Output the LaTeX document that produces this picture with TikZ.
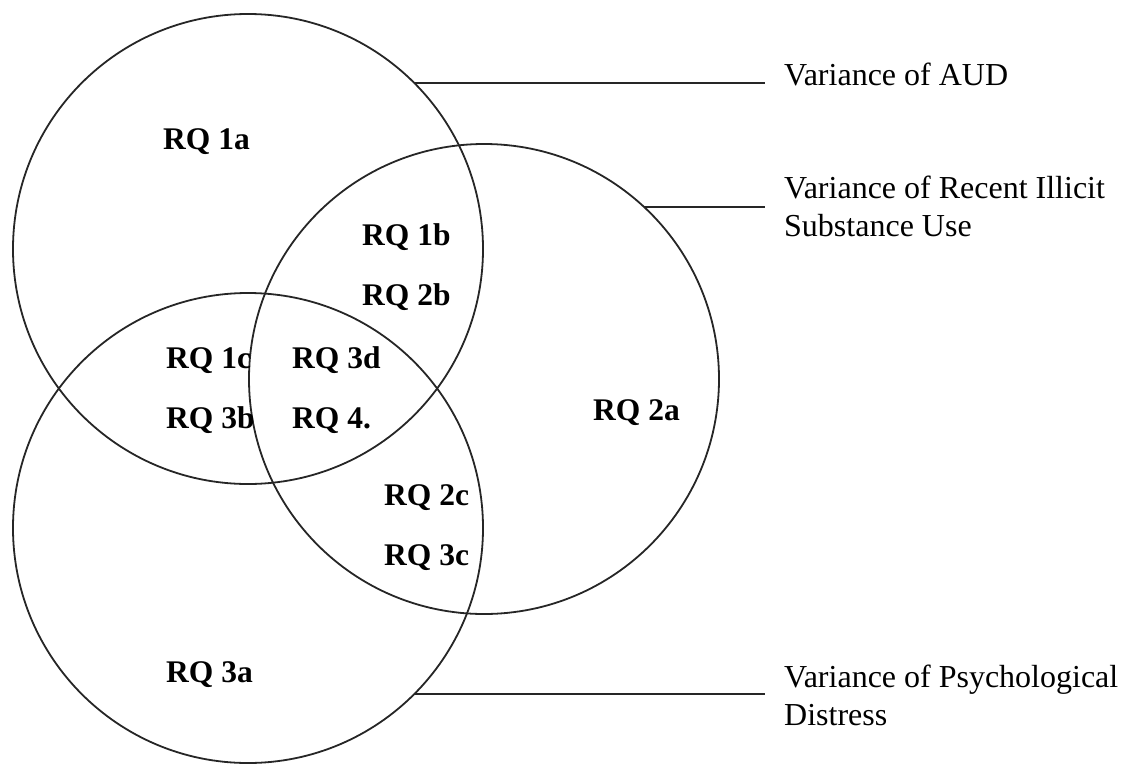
\documentclass[tikz,border=0pt]{standalone}
\usepackage{fontspec}
\setmainfont{Liberation Serif}
\begin{document}
\begin{tikzpicture}[x=1pt,y=-1pt,
  venn/.style={draw=black!85,line width=1.8pt,circle,minimum size=470pt,inner sep=0pt,outer sep=0pt},
  rq/.style={anchor=base west,inner sep=0pt,font=\fontsize{31.5}{31.5}\selectfont\bfseries},
  lbl/.style={anchor=base west,inner sep=0pt,font=\fontsize{32}{38}\selectfont,align=left},
  lead/.style={draw=black!85,line width=1.8pt}]
\useasboundingbox (0,0) rectangle (1128,764);
\node[venn] (c1) at (248,249) {};
\node[venn] (c2) at (484,379) {};
\node[venn] (c3) at (248,528) {};
\node[rq] (q1a) at (163,149) {RQ 1a};
\node[rq] (q1b) at (362,245) {RQ 1b};
\node[rq] (q2b) at (362,305) {RQ 2b};
\node[rq] (q1c) at (166,368) {RQ 1c};
\node[rq] (q3b) at (166,428) {RQ 3b};
\node[rq] (q3d) at (292,368) {RQ 3d};
\node[rq] (q4) at (292,428) {RQ 4.};
\node[rq] (q2a) at (593,420) {RQ 2a};
\node[rq] (q2c) at (384,505) {RQ 2c};
\node[rq] (q3c) at (384,565) {RQ 3c};
\node[rq] (q3a) at (166,682) {RQ 3a};
\node[lbl] (l1) at (784,85) {Variance of AUD};
\node[lbl] (l2) at (784,236) {Variance of Recent Illicit\\Substance Use};
\node[lbl] (l3) at (784,725) {Variance of Psychological\\Distress};
\coordinate (e) at (765,0);
\draw[lead] (c1.45) -- (c1.45 -| e);
\draw[lead] (c2.47.7) -- (c2.47.7 -| e);
\draw[lead] (c3.-45) -- (c3.-45 -| e);
\end{tikzpicture}
\end{document}
